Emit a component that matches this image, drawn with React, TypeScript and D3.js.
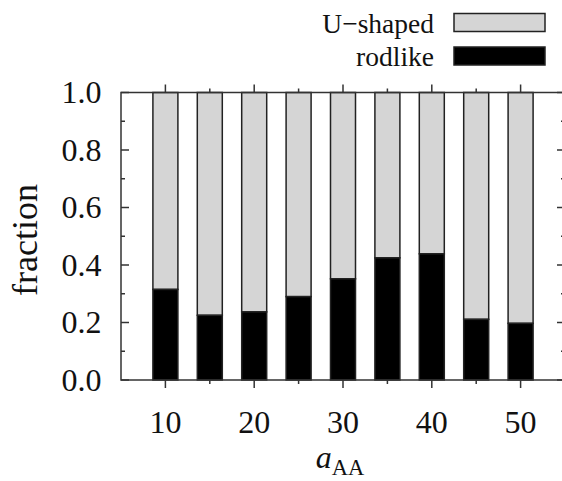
import React from "react";
import * as d3 from "d3";

const categories = [10, 15, 20, 25, 30, 35, 40, 45, 50];
const rodlike = [0.315, 0.225, 0.237, 0.29, 0.352, 0.425, 0.439, 0.211, 0.197];
const xMajorTicks = [10, 20, 30, 40, 50];
const xMinorTicks = [15, 25, 35, 45];
const yMajorTicks = [0, 0.2, 0.4, 0.6, 0.8, 1.0];
const yMinorTicks = [0.1, 0.3, 0.5, 0.7, 0.9];
const seriesNames = ["U\u2212shaped", "rodlike"];

const W = 562;
const H = 481;
const left = 121;
const right = 565;
const top = 92.5;
const bottom = 380;
const GRAY = "#d5d5d5";
const STROKE = "#222";

export default function App() {
  const x = d3.scaleLinear().domain([5, 55]).range([left, right]);
  const y = d3.scaleLinear().domain([0, 1]).range([bottom, top]);
  const barW = 25;
  const major = 8;
  const minor = 4;
  const txt = { fontFamily: `"Liberation Serif"` };

  return (
    <svg
      width={W}
      height={H}
      style={{ position: "absolute", left: 0, top: 0, background: "#fff" }}
    >
      {categories.map((c, i) => {
        const x0 = x(c) - barW / 2;
        return (
          <g key={c}>
            <rect x={x0} y={y(1)} width={barW} height={y(rodlike[i]) - y(1)}
              fill={GRAY} stroke={STROKE} strokeWidth={1.5} />
            <rect x={x0} y={y(rodlike[i])} width={barW} height={y(0) - y(rodlike[i])}
              fill="#000" stroke={STROKE} strokeWidth={1.5} />
          </g>
        );
      })}

      <rect x={left} y={top} width={right - left} height={bottom - top}
        fill="none" stroke="#333" strokeWidth={1.5} />

      {xMajorTicks.map((t) => (
        <g key={"xM" + t}>
          <line x1={x(t)} x2={x(t)} y1={bottom} y2={bottom + major} stroke="#333" strokeWidth={1.5} />
          <line x1={x(t)} x2={x(t)} y1={top} y2={top - major} stroke="#333" strokeWidth={1.5} />
          <text x={x(t)} y={433} textAnchor="middle" fontSize={32} fill="#111" style={txt}>
            {t}
          </text>
        </g>
      ))}
      {xMinorTicks.map((t) => (
        <g key={"xm" + t}>
          <line x1={x(t)} x2={x(t)} y1={bottom} y2={bottom + minor} stroke="#333" strokeWidth={1.5} />
          <line x1={x(t)} x2={x(t)} y1={top} y2={top - minor} stroke="#333" strokeWidth={1.5} />
        </g>
      ))}

      {yMajorTicks.map((t) => (
        <g key={"yM" + t}>
          <line x1={left} x2={left + major} y1={y(t)} y2={y(t)} stroke="#333" strokeWidth={1.5} />
          <line x1={right} x2={right - major} y1={y(t)} y2={y(t)} stroke="#333" strokeWidth={1.5} />
          <text x={101.5} y={y(t)} dy="0.34em" textAnchor="end" fontSize={32} fill="#111" style={txt}>
            {d3.format(".1f")(t)}
          </text>
        </g>
      ))}
      {yMinorTicks.map((t) => (
        <g key={"ym" + t}>
          <line x1={left} x2={left + minor} y1={y(t)} y2={y(t)} stroke="#333" strokeWidth={1.5} />
          <line x1={right} x2={right - minor} y1={y(t)} y2={y(t)} stroke="#333" strokeWidth={1.5} />
        </g>
      ))}

      <text transform={`translate(37, 240) rotate(-90)`}
        textAnchor="middle" fontSize={36} fill="#111" style={txt}>
        fraction
      </text>
      <text x={340} y={468} textAnchor="middle" fill="#111" style={txt}>
        <tspan fontStyle="italic" fontSize={32}>a</tspan>
        <tspan fontSize={22.5} dy={7}>AA</tspan>
      </text>

      {seriesNames.map((name, i) => (
        <g key={name}>
          <text x={434} y={i === 0 ? 33 : 66} textAnchor="end" fontSize={27.5} fill="#111" style={txt}>
            {name}
          </text>
          <rect x={454} y={i === 0 ? 13.5 : 47} width={91} height={18}
            fill={i === 0 ? GRAY : "#000"} stroke={STROKE} strokeWidth={1.5} />
        </g>
      ))}
    </svg>
  );
}
